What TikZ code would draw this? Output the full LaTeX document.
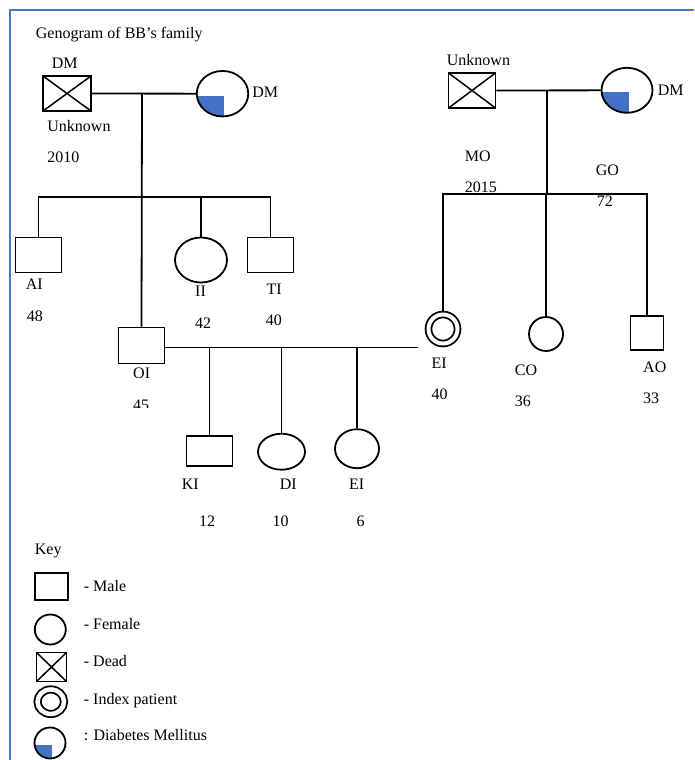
\documentclass[tikz,border=0pt]{standalone}
\usepackage{fontspec}
\setmainfont{Liberation Serif}
\usetikzlibrary{shapes.geometric}
\definecolor{dmblue}{RGB}{68,114,196}
\definecolor{frameblue}{RGB}{72,118,196}

\begin{document}
\begin{tikzpicture}[x=1pt,y=-1pt,line width=1.8pt,
  font=\fontsize{16}{19}\selectfont,
  male/.style={draw,rectangle,inner sep=0pt},
  female/.style={draw,ellipse,inner sep=0pt},
  dead/.style={male,path picture={\draw[line width=1.5pt]
    (path picture bounding box.north west) -- (path picture bounding box.south east)
    (path picture bounding box.south west) -- (path picture bounding box.north east);}},
  dm/.style={female,path picture={\fill[dmblue]
    ([xshift=1.5pt,yshift=-2pt]path picture bounding box.center) rectangle (path picture bounding box.south west);}},
  index/.style={female,double,double distance=4pt,outer sep=3.8pt},
  lbl/.style={inner sep=0pt,anchor=base west}]
\useasboundingbox (0,0) rectangle (694,760);
\draw [frameblue,line width=2.2pt] (10,760) -- (10,10) -- (694,10);

\node [lbl] (title) at (35,39) {Genogram of BB’s family};

% grandparents, father side
\node [dead,minimum width=48pt,minimum height=35pt] (gfi) at (67,93.5) {};
\node [dm,minimum width=51.5pt,minimum height=45.5pt] (gmi) at (222.5,93.7) {};
\node [lbl] (dmgfi) at (51,69) {DM};
\node [lbl] (unkgfi) at (46.5,131.5) {Unknown};
\node [lbl] (yrgfi) at (46.5,162.5) {2010};
\node [lbl] (dmgmi) at (251.5,97.5) {DM};

% grandparents, mother side
\node [dead,minimum width=47pt,minimum height=35pt] (gfo) at (472,90.5) {};
\node [dm,minimum width=51pt,minimum height=45pt] (gmo) at (627,90.3) {};
\node [lbl] (unkgfo) at (446,66) {Unknown};
\node [lbl] (dmgmo) at (657,95) {DM};
\node [lbl] (nmo) at (464,161.5) {MO};
\node [lbl] (yrmo) at (464,192) {2015};
\node [lbl] (ngo) at (595,175) {GO};
\node [lbl] (ago) at (596,206.5) {72};

% children of the father side
\node [male,minimum width=46pt,minimum height=35pt] (ai) at (38.5,255) {};
\node [female,minimum width=52pt,minimum height=45pt] (ii) at (201,260) {};
\node [male,minimum width=46pt,minimum height=35pt] (ti) at (270.5,255) {};
\node [male,minimum width=46pt,minimum height=36pt] (oi) at (141.5,345.5) {};
\node [lbl] (nai) at (25,289.5) {AI};
\node [lbl] (aai) at (26,321) {48};
\node [lbl] (nii) at (194.3,296.5) {II};
\node [lbl] (aii) at (194.3,328) {42};
\node [lbl] (nti) at (265.7,294) {TI};
\node [lbl] (ati) at (265,325) {40};
\node [lbl] (noi) at (132.3,378.5) {OI};
\begin{scope}
  \clip (120,390) rectangle (170,407);
  \node [lbl] (aoi) at (132.3,410.5) {45};
\end{scope}

% children of the mother side
\node [index,minimum width=29pt,minimum height=29pt] (ei) at (443,329) {};
\node [female,minimum width=34pt,minimum height=34pt] (co) at (546,334) {};
\node [male,minimum width=33pt,minimum height=34pt] (ao) at (647,333) {};
\node [lbl] (nei) at (430.7,368.5) {EI};
\node [lbl] (aei) at (430.7,399) {40};
\node [lbl] (nco) at (514,375.5) {CO};
\node [lbl] (aco) at (514,406.5) {36};
\node [lbl] (nao) at (642.3,372.5) {AO};
\node [lbl] (aao) at (642.3,403) {33};

% grandchildren
\node [male,minimum width=46pt,minimum height=30pt] (ki) at (209.5,451) {};
\node [female,minimum width=47pt,minimum height=36pt] (di) at (281.5,451.7) {};
\node [female,minimum width=44pt,minimum height=39pt] (ec) at (357,448.7) {};
\node [lbl] (nki) at (181,489) {KI};
\node [lbl] (aki) at (198.3,526.5) {12};
\node [lbl] (ndi) at (279,489) {DI};
\node [lbl] (adi) at (271.7,526.5) {10};
\node [lbl] (nec) at (348.3,489) {EI};
\node [lbl] (aec) at (355.7,526.5) {6};

% lines
\coordinate (mi) at (142,93.6);
\coordinate (si) at (142,197.3);
\coordinate (mo) at (546.7,90.4);
\coordinate (so) at (546.7,194.3);
\coordinate (mc) at (418,347.5);
\draw (gfi) -- (gmi);
\draw (mi) -- (oi.north);
\draw (ai.north) |- (si) -| (ti.north);
\draw (ii.north) -- (ii.north |- si);
\draw (gfo) -- (gmo);
\draw (mo) -- (so);
\draw (ei.north) |- (so) -| (ao.north);
\draw (co.north) -- (co.north |- so);
\draw ([yshift=-2pt]oi.east) -- (mc);
\draw (ki.north) -- (ki.north |- mc);
\draw (di.north) -- (di.north |- mc);
\draw (ec.north) -- (ec.north |- mc);

% key
\node [lbl] (key) at (34,554.3) {Key};
\node [male,minimum width=33pt,minimum height=27pt] (kmale) at (51.5,586.7) {};
\node [female,minimum width=31pt,minimum height=30pt] (kfemale) at (50.3,629.5) {};
\node [dead,minimum width=30pt,minimum height=29pt] (kdead) at (51.5,667) {};
\node [index,double distance=4.5pt,minimum width=26.5pt,minimum height=24.5pt] (kindex) at (50.8,701.7) {};
\node [dm,minimum width=31pt,minimum height=31pt] (kdm) at (50,743) {};
\node [lbl] (tmale) at (83,591.5) {- Male};
\node [lbl] (tfemale) at (83,629) {- Female};
\node [lbl] (tdead) at (83,666.5) {- Dead};
\node [lbl] (tindex) at (83,704) {- Index patient};
\node [lbl] (tdm) at (83,740.5) {: Diabetes Mellitus};
\end{tikzpicture}
\end{document}
